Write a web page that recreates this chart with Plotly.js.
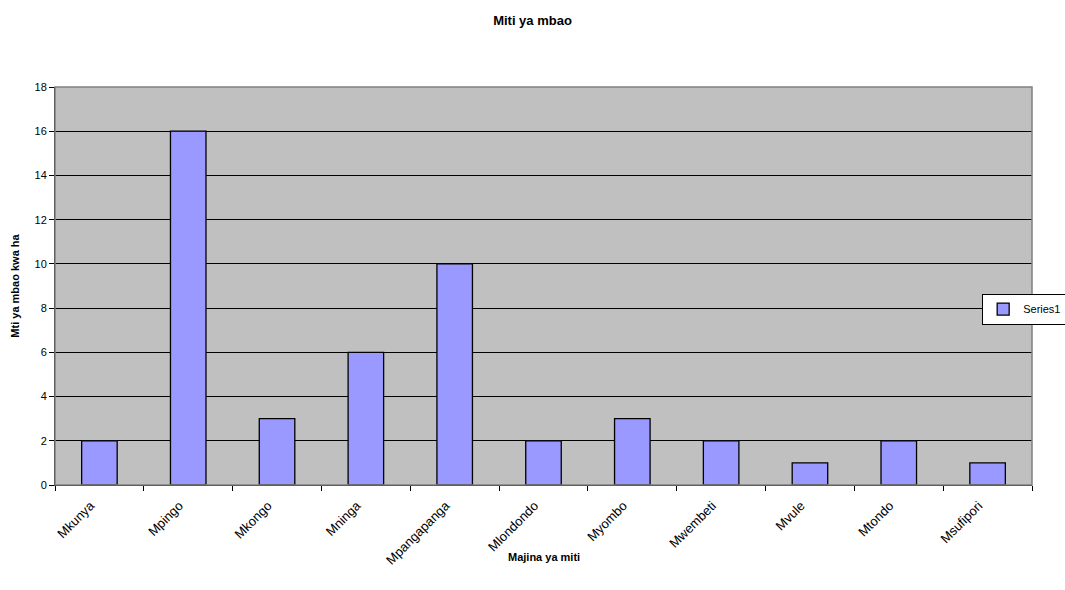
<!DOCTYPE html>
<html>
<head>
<meta charset="utf-8">
<script src="https://cdn.plot.ly/plotly-3.0.1.min.js"></script>
<style>html,body{margin:0;padding:0;background:#fff;}#chart{width:1065px;height:590px;}</style>
</head>
<body>
<div id="chart"></div>
<script>
const categories = ["Mkunya","Mpingo","Mkongo","Mninga","Mpangapanga","Mlondondo","Myombo","Mwembeti","Mvule","Mtondo","Msufipori"];
const series1 = [2,16,3,6,10,2,3,2,1,2,1];
const yTicks = [0,2,4,6,8,10,12,14,16,18];

const font = "Liberation Sans, Arial, sans-serif";
const trace = {
  type: "bar",
  x: categories,
  y: series1,
  name: "Series1",
  marker: {color: "#9999FF", line: {color: "#000000", width: 1.3}}
};
const layout = {
  width: 1065, height: 590,
  margin: {l: 55, r: 33, t: 87, b: 105, autoexpand: false},
  paper_bgcolor: "#FFFFFF",
  plot_bgcolor: "#C0C0C0",
  bargap: 0.6,
  font: {family: font, size: 11, color: "#000"},
  title: {text: "<b>Miti ya mbao</b>", font: {size: 13, family: font}, x: 0.5, xanchor: "center", y: 0.965, yanchor: "middle"},
  xaxis: {
    type: "category",
    tickangle: -45,
    ticks: "outside", ticklen: 5, tickcolor: "#000", tickson: "boundaries",
    ticklabelstandoff: 7,
    ticklabelshift: -9,
    showline: true, linecolor: "#000", linewidth: 1,
    showgrid: false, zeroline: false,
    tickfont: {size: 13, family: font}
  },
  yaxis: {
    range: [0, 18],
    tickvals: yTicks,
    ticks: "outside", ticklen: 5, tickcolor: "#000",
    showline: true, linecolor: "#000", linewidth: 1,
    showgrid: true, gridcolor: "#000", gridwidth: 1,
    zeroline: false,
    tickfont: {size: 11, family: font},
    title: {text: "<b>Mti ya mbao kwa ha</b>", font: {size: 11, family: font}, standoff: 12}
  },
  annotations: [{
    text: "<b>Majina ya miti</b>", xref: "paper", yref: "paper", x: 0.5, y: -0.181,
    xanchor: "center", yanchor: "middle", showarrow: false, font: {size: 11, family: font}
  }],
  shapes: [{type: "rect", xref: "paper", yref: "paper", x0: 0, x1: 1, y0: 0, y1: 1, line: {color: "#808080", width: 1.5}}],
  showlegend: true,
  legend: {
    x: 0.949, y: 0.442, xanchor: "left", yanchor: "middle",
    bgcolor: "#FFFFFF", bordercolor: "#000", borderwidth: 1,
    font: {size: 11, family: font},
    itemwidth: 30
  }
};
Plotly.newPlot("chart", [trace], layout, {displayModeBar: false, staticPlot: true});
</script>
</body>
</html>
